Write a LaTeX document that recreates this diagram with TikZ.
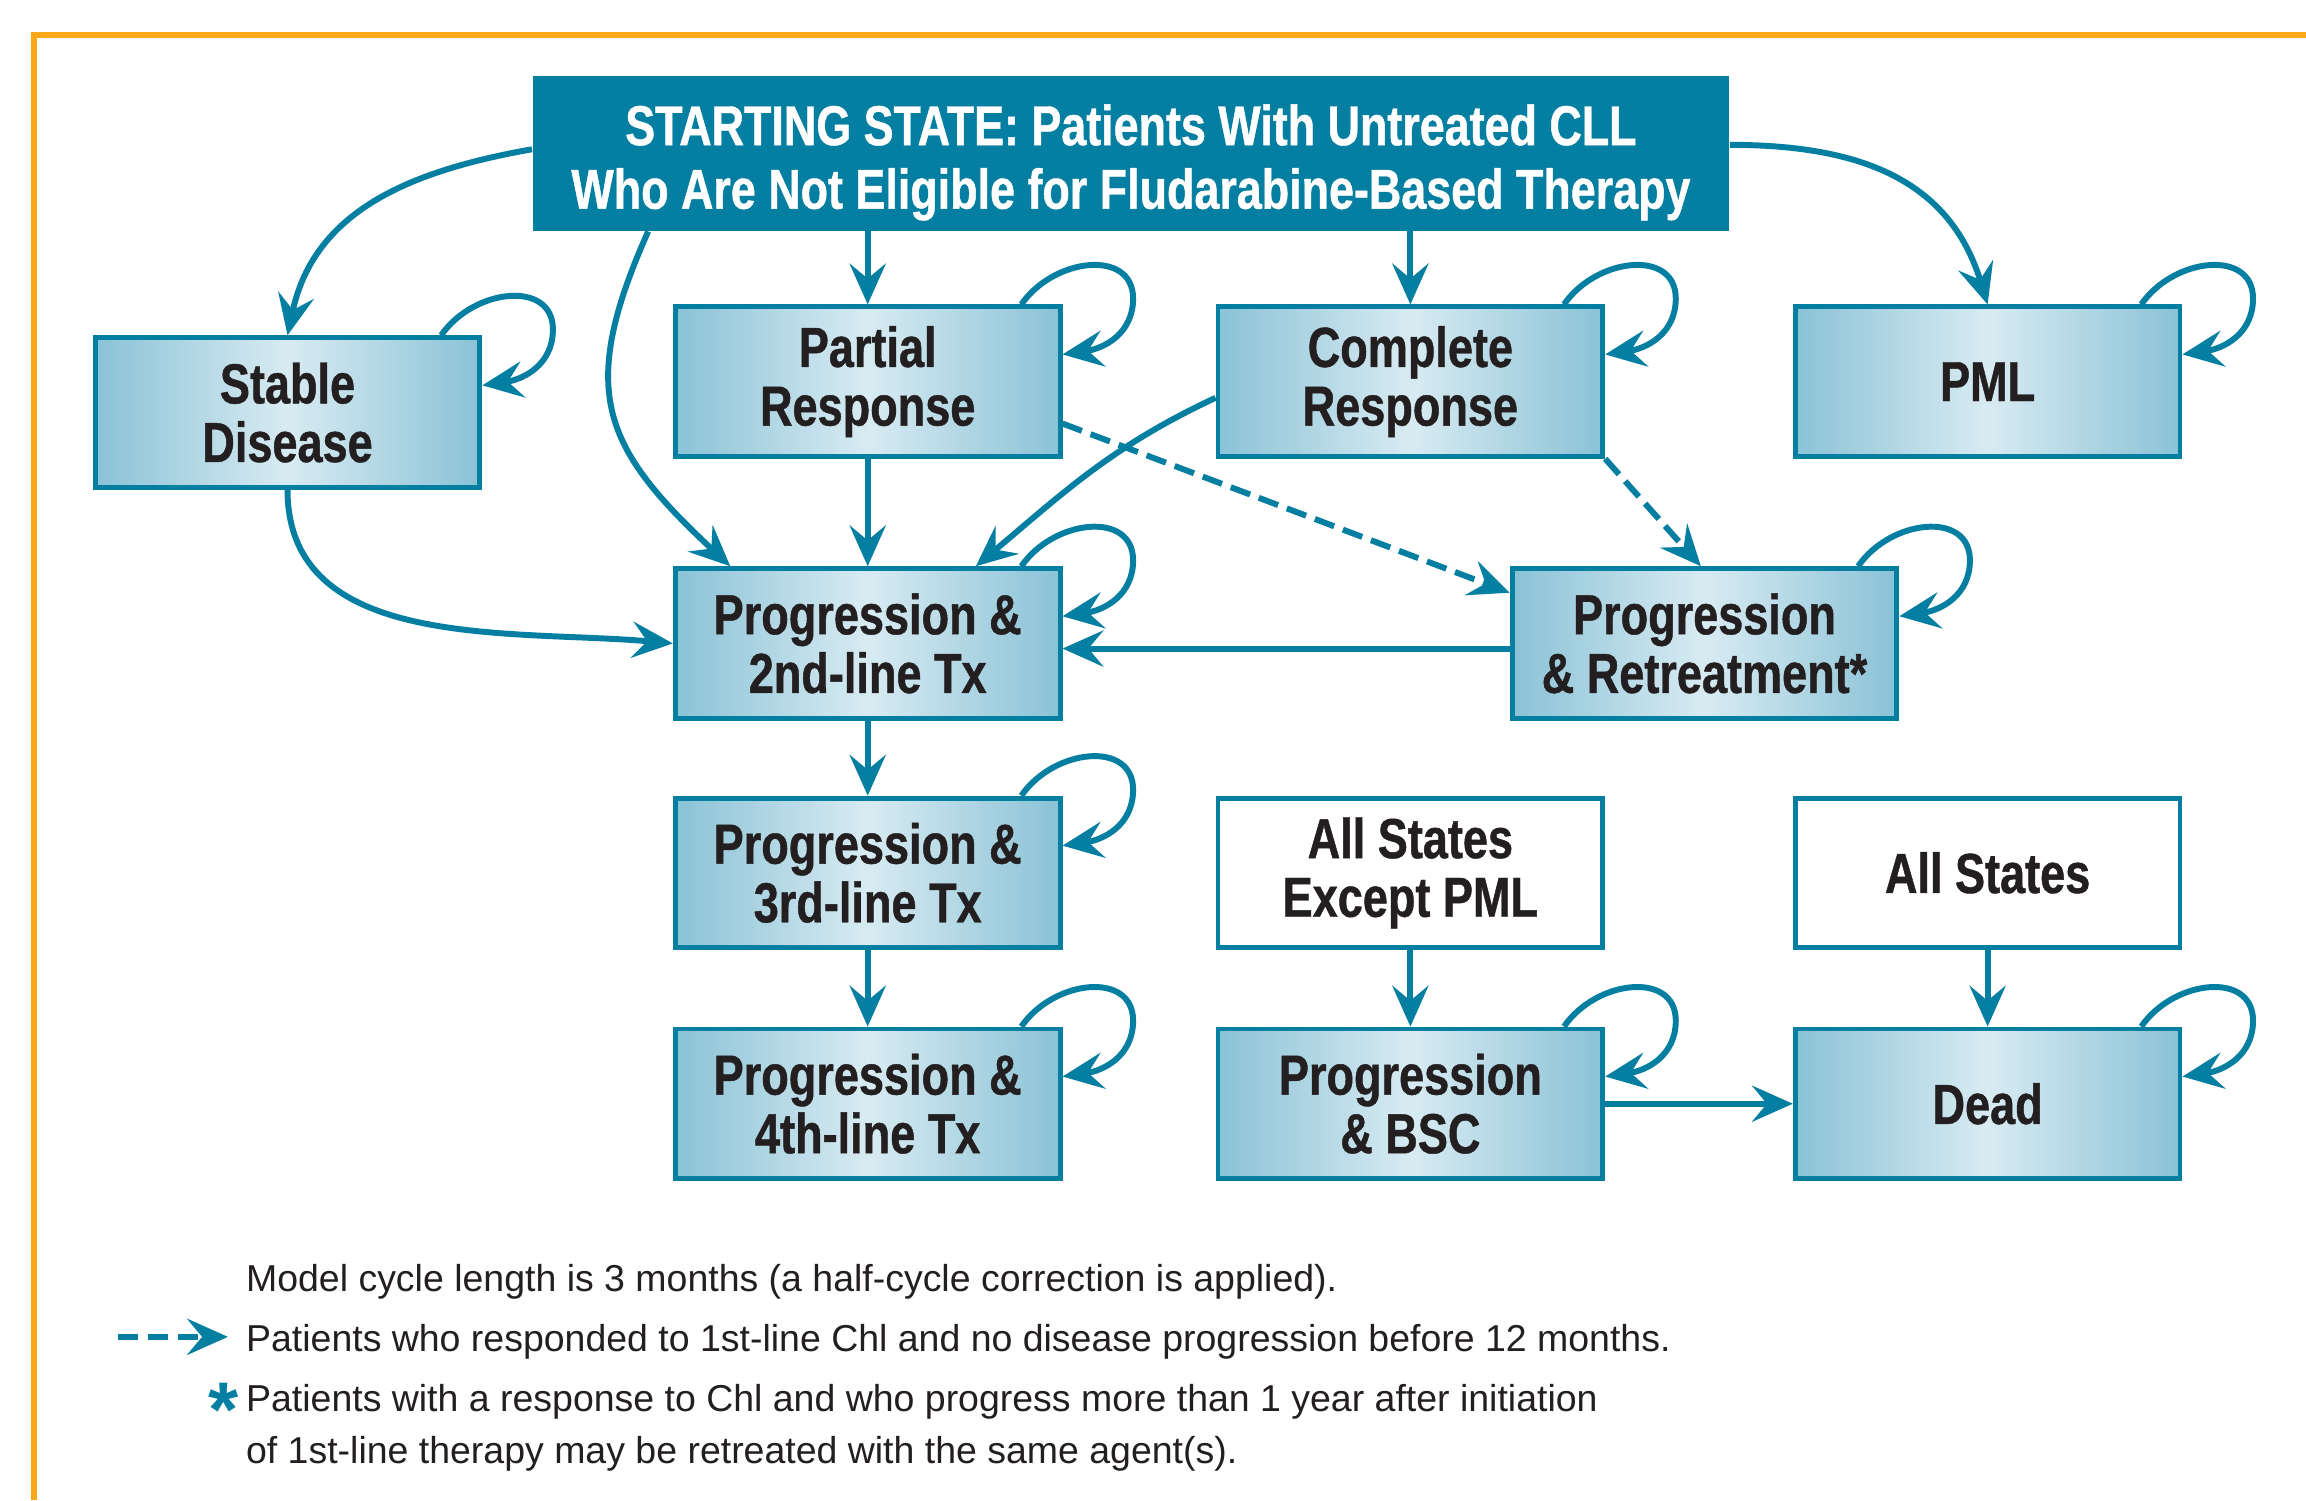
\documentclass[tikz,border=0pt]{standalone}
\usepackage{fontspec}
\setmainfont{Liberation Sans}
\newfontfamily\condsans[FakeStretch=0.8,BoldFeatures={FakeBold=0.8}]{Liberation Sans}
\usetikzlibrary{arrows.meta,calc}

\definecolor{cteal}{RGB}{4,127,161}
\definecolor{boxedge}{RGB}{138,194,214}
\definecolor{boxmid}{RGB}{216,235,242}
\definecolor{frameor}{RGB}{250,168,26}
\definecolor{ink}{RGB}{35,31,32}

% self-transition loop at the top-right corner of a state box
\newcommand{\statloop}[1]{%
  \draw[arr] ($(#1.north east)+(-28,0)$)
    .. controls +(22,32) and +(0,34) .. ($(#1.north east)+(48,4)$)
    .. controls +(0,-24) and +(28,4) .. ($(#1.north east)+(0,-34)$);}

\begin{document}
\begin{tikzpicture}[x=0.02cm,y=0.02cm,
  basebox/.style={draw=cteal, line width=1.9pt, minimum width=5.233cm,
    minimum height=2.033cm, inner sep=0pt, align=center, text=ink,
    font=\condsans\bfseries\fontsize{21.8pt}{22.7pt}\selectfont},
  state/.style={basebox, left color=boxedge, right color=boxedge, middle color=boxmid},
  plainbox/.style={basebox, fill=white},
  startbox/.style={fill=cteal, minimum width=16.28cm, minimum height=2.1cm,
    inner sep=0pt},
  starttext/.style={inner sep=0pt, align=center, text=white,
    font=\condsans\bfseries\fontsize{21.7pt}{24.6pt}\selectfont},
  arr/.style={draw=cteal, line width=2.3pt,
    -{Stealth[length=15.8pt,width=14pt,inset=5.8pt]}},
  dasharr/.style={arr, dash pattern=on 8pt off 3.6pt},
  frameline/.style={draw=frameor, line width=2.3pt},
  legend/.style={anchor=base west, inner sep=0pt, text=ink,
    font=\fontsize{14.5pt}{16pt}\selectfont}
]
\useasboundingbox (0,0) rectangle (1568,-1020);
\fill[white] (0,0) rectangle (1568,-1020);

% frame
\draw[frameline] (23,-1020) -- (23,-23.5) -- (1568,-23.5);

% states
\node[startbox] (S) at (769,-104.5) {};
\node[starttext] (ST) at ($(S.center)+(0,-6)$)
  {STARTING STATE: Patients With Untreated CLL\\Who Are Not Eligible for Fludarabine-Based Therapy};
\node[state] (SD)   at (195.5,-280.5) {Stable\\Disease};
\node[state] (PR)   at (590,-259.5)   {Partial\\Response};
\node[state] (CR)   at (959,-259.5)   {Complete\\Response};
\node[state] (PML)  at (1351.5,-259.5){PML};
\node[state] (P2)   at (590,-437.5)   {Progression \&\\2nd-line Tx};
\node[state] (RT)   at (1159,-437.5)  {Progression\\\& Retreatment*};
\node[state] (P3)   at (590,-593.5)   {Progression \&\\3rd-line Tx};
\node[plainbox] (AX) at (959,-593.5)  {All States\\Except PML};
\node[plainbox] (AS) at (1351.5,-593.5){All States};
\node[state] (P4)   at (590,-750.5)   {Progression \&\\4th-line Tx};
\node[state] (BSC)  at (959,-750.5)   {Progression\\\& BSC};
\node[state] (DD)   at (1351.5,-750.5){Dead};

% transitions from the starting state
\draw[arr] ($(S.west)+(0,3)$) to[out=190,in=78,looseness=1.05] (SD.north);
\draw[arr] ($(S.south west)+(79,0)$) to[out=246,in=137,looseness=1.3] ($(P2.north west)+(39,0)$);
\draw[arr] (S.south -| PR.north) -- (PR.north);
\draw[arr] (S.south -| CR.north) -- (CR.north);
\draw[arr] ($(S.east)+(0,6)$) to[out=0,in=107,looseness=1.1] (PML.north);

% transitions between states
\draw[arr] (SD.south) to[out=-90,in=175] (P2.west);
\draw[arr] (PR.south) -- (P2.north);
\draw[arr] ($(CR.west)+(0,-11)$) to[out=205,in=40] ($(P2.north west)+(206,0)$);
\draw[dasharr] ($(PR.east)+(0,-28.5)$) -- ($(RT.north west)+(0,-18)$);
\draw[dasharr] (CR.south east) -- ($(RT.north west)+(130,0)$);
\draw[arr] ($(RT.west)+(0,-3.5)$) coordinate (rtw) -- (rtw -| P2.east);
\draw[arr] (P2.south) -- (P3.north);
\draw[arr] (P3.south) -- (P4.north);
\draw[arr] (AX.south) -- (BSC.north);
\draw[arr] (AS.south) -- (DD.north);
\draw[arr] (BSC.east) -- (DD.west);

% self-transitions
\statloop{SD}
\statloop{PR}
\statloop{CR}
\statloop{PML}
\statloop{P2}
\statloop{RT}
\statloop{P3}
\statloop{P4}
\statloop{BSC}
\statloop{DD}

% key
\node[legend] (l1) at (167,-878) {Model cycle length is 3 months (a half-cycle correction is applied).};
\coordinate (lgs) at (80,-909);
\coordinate (lge) at (155,-909);
\draw[dasharr] (lgs) -- (lge);
\node[legend] (l2) at (167,-919) {Patients who responded to 1st-line Chl and no disease progression before 12 months.};
\node[anchor=base, inner sep=0pt, text=cteal,
  font=\bfseries\fontsize{30pt}{30pt}\selectfont] (ast) at (152,-977) {*};
\node[legend] (l3) at (167,-960) {Patients with a response to Chl and who progress more than 1 year after initiation};
\node[legend] (l4) at (167,-995) {of 1st-line therapy may be retreated with the same agent(s).};
\end{tikzpicture}
\end{document}
